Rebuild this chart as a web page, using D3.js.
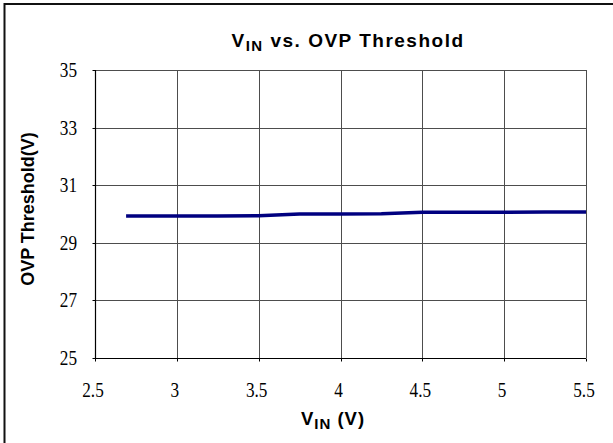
<!DOCTYPE html>
<html>
<head>
<meta charset="utf-8">
<script src="https://cdn.jsdelivr.net/npm/d3@7"></script>
<style>
  body { margin: 0; background: #fff; }
  svg { display: block; }
</style>
</head>
<body>
<div id="chart"></div>
<script>
// VIN (V) vs OVP threshold (V)
const vin = [2.69, 3.0, 3.25, 3.5, 3.75, 4.0, 4.25, 4.5, 4.75, 5.0, 5.25, 5.5];
const ovp = [29.93, 29.93, 29.93, 29.94, 30.0, 30.0, 30.01, 30.06, 30.06, 30.06, 30.07, 30.07];
const xTicks = [2.5, 3, 3.5, 4, 4.5, 5, 5.5];
const yTicks = [25, 27, 29, 31, 33, 35];

const width = 613;
const height = 443;
const margin = { top: 70, right: 27, bottom: 85, left: 95 };
const serif = '"Liberation Serif", "DejaVu Serif", "Times New Roman", serif';
const sans = '"Liberation Sans", Arial, sans-serif';

const svg = d3.select('#chart')
  .append('svg')
  .attr('width', width)
  .attr('height', height);

// outer frame (only left and top edges visible)
svg.append('path')
  .attr('d', `M4.5,${height} V4 H${width}`)
  .attr('fill', 'none')
  .attr('stroke', '#111')
  .attr('stroke-width', 2);

const x = d3.scaleLinear()
  .domain([2.5, 5.5])
  .range([margin.left, width - margin.right]);

const y = d3.scaleLinear()
  .domain([25, 35])
  .range([height - margin.bottom, margin.top]);

const plot = svg.append('g').attr('class', 'plot');

// grid
plot.append('g')
  .selectAll('line')
  .data(yTicks.slice(1))
  .join('line')
  .attr('x1', x(2.5)).attr('x2', x(5.5))
  .attr('y1', d => Math.round(y(d)) + 0.5).attr('y2', d => Math.round(y(d)) + 0.5)
  .attr('stroke', '#4d4d4d')
  .attr('stroke-width', 1);

plot.append('g')
  .selectAll('line')
  .data(xTicks.slice(1))
  .join('line')
  .attr('x1', d => Math.round(x(d)) + 0.5).attr('x2', d => Math.round(x(d)) + 0.5)
  .attr('y1', y(35)).attr('y2', y(25))
  .attr('stroke', '#4d4d4d')
  .attr('stroke-width', 1);

// axes lines with small outer ticks
const x0 = Math.round(x(2.5)) + 0.5;
const y0 = Math.round(y(25)) + 0.5;
plot.append('path')
  .attr('d', `M${x0},${y(35)} V${y0} H${x(5.5)}`)
  .attr('fill', 'none')
  .attr('stroke', '#000')
  .attr('stroke-width', 1.2);

plot.append('g')
  .selectAll('line')
  .data(yTicks)
  .join('line')
  .attr('x1', x0 - 3).attr('x2', x0)
  .attr('y1', d => Math.round(y(d)) + 0.5).attr('y2', d => Math.round(y(d)) + 0.5)
  .attr('stroke', '#000');

plot.append('g')
  .selectAll('line')
  .data(xTicks)
  .join('line')
  .attr('x1', d => Math.round(x(d)) + 0.5).attr('x2', d => Math.round(x(d)) + 0.5)
  .attr('y1', y0).attr('y2', y0 + 3)
  .attr('stroke', '#000');

// tick labels (condensed serif)
plot.append('g')
  .selectAll('text')
  .data(yTicks)
  .join('text')
  .attr('transform', d => `translate(77,${y(d) + 7}) scale(0.82,1)`)
  .attr('text-anchor', 'end')
  .style('font-family', serif)
  .style('font-size', '21px')
  .attr('fill', '#000')
  .text(d => d);

plot.append('g')
  .selectAll('text')
  .data(xTicks)
  .join('text')
  .attr('transform', d => `translate(${x(d) - 2},397) scale(0.82,1)`)
  .attr('text-anchor', 'middle')
  .style('font-family', serif)
  .style('font-size', '21px')
  .attr('fill', '#000')
  .text(d => d);

// data line
const line = d3.line()
  .x((d, i) => x(vin[i]))
  .y(d => y(d));

plot.append('path')
  .datum(ovp)
  .attr('d', line)
  .attr('fill', 'none')
  .attr('stroke', '#000080')
  .attr('stroke-width', 3.5)
  .attr('stroke-linejoin', 'round');

// title
const title = svg.append('text')
  .attr('x', 348)
  .attr('y', 47)
  .attr('text-anchor', 'middle')
  .style('font-family', sans)
  .style('font-weight', 'bold')
  .style('font-size', '19px')
  .style('letter-spacing', '1.5px');
title.append('tspan').text('V');
title.append('tspan').attr('dy', 4).style('font-size', '15px').text('IN');
title.append('tspan').attr('dy', -4).text(' vs. OVP Threshold');

// x axis title
const xt = svg.append('text')
  .attr('x', 333)
  .attr('y', 425)
  .attr('text-anchor', 'middle')
  .style('font-family', sans)
  .style('font-weight', 'bold')
  .style('font-size', '18.5px')
  .style('letter-spacing', '1px');
xt.append('tspan').text('V');
xt.append('tspan').attr('dy', 4).style('font-size', '15px').text('IN');
xt.append('tspan').attr('dy', -4).text(' (V)');

// y axis title
svg.append('text')
  .attr('transform', 'translate(34,209) rotate(-90)')
  .attr('text-anchor', 'middle')
  .style('font-family', sans)
  .style('font-weight', 'bold')
  .style('font-size', '18px')
  .text('OVP Threshold(V)');
</script>
</body>
</html>
